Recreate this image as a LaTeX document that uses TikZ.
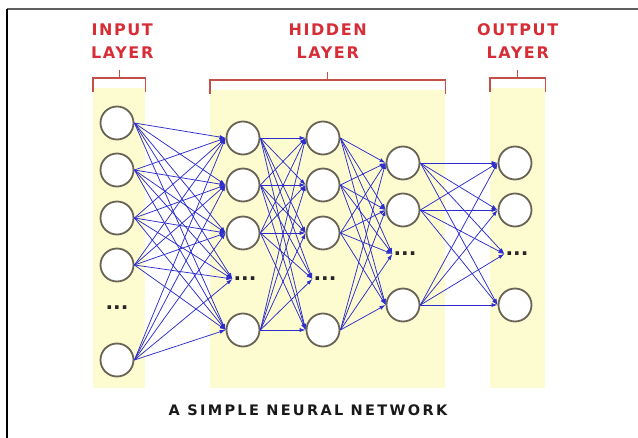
\documentclass[tikz,border=0pt]{standalone}
\usepackage{fontspec}
\setmainfont{DejaVu Sans}
\newfontfamily\layerfont[LetterSpace=10]{DejaVu Sans}
\newfontfamily\captionfont[LetterSpace=16]{DejaVu Sans}
\usepackage{tikz}
\usetikzlibrary{calc}
\usetikzlibrary{positioning}
\usetikzlibrary{arrows.meta}

\definecolor{bandyellow}{RGB}{253,252,208}
\definecolor{labelred}{RGB}{215,45,55}
\definecolor{bracketred}{RGB}{195,80,70}
\definecolor{linkblue}{RGB}{45,45,205}
\definecolor{ringgray}{RGB}{105,100,85}

\tikzset{
  band/.style={rectangle, draw=none, fill=bandyellow, anchor=north west, minimum width=#1},
  neuron/.style={circle, draw=ringgray, line width=1.8pt, fill=white, minimum size=33pt, inner sep=0pt},
  dots/.style={inner sep=1pt, text=black!85, font=\bfseries\fontsize{20}{20}\selectfont},
  link/.style={draw=linkblue, line width=0.75pt},
  bracket/.style={draw=bracketred, line width=1.4pt},
  layerlabel/.style={align=center, text=labelred, font=\layerfont\bfseries\fontsize{16}{23}\selectfont},
  caption/.style={text=black!90, font=\captionfont\bfseries\fontsize{14.5}{17}\selectfont}
}

\begin{document}
\begin{tikzpicture}[x=1pt, y=-1pt]

\useasboundingbox (0,0) rectangle (638,438);

%% frame
\draw[gray!75!black, line width=2pt] (7,9) -- (638,9);
\draw[black, line width=1.5pt] (7,9) -- (7,438);

%% layer backgrounds
\node at (93,88) [band=52pt, minimum height=300pt] (inband) {};
\node at (210,90) [band=235pt, minimum height=298pt] (hidband) {};
\node at (490,88) [band=55pt, minimum height=300pt] (outband) {};

%% brackets and labels
\foreach \b in {inband,hidband,outband} {
	\draw[bracket] ([yshift=-4pt]\b.north west) -- ([yshift=10pt]\b.north west) -- ([yshift=10pt]\b.north east) -- ([yshift=-4pt]\b.north east);
	\draw[bracket] ([yshift=10pt]\b.north) -- ([yshift=18pt]\b.north);
}
\node [layerlabel, above=26pt of inband.north, xshift=3pt] (inlab) {INPUT\\LAYER};
\node [layerlabel, above=28pt of hidband.north] (hidlab) {HIDDEN\\LAYER};
\node [layerlabel, above=26pt of outband.north] (outlab) {OUTPUT\\LAYER};

%% input layer
\foreach \n/\y in {1/123,2/170,3/218,4/265,6/360}
	\node[neuron] (in\n) at (117,\y) {};
\node[dots] (in5) at (117,308) {...};

%% hidden layers
\foreach \n/\y in {1/138,2/185,3/233,5/330} {
	\node[neuron] (ha\n) at (243,\y) {};
	\node[neuron] (hb\n) at (323,\y) {};
}
\node[dots] (ha4) at (245,279) {...};
\node[dots] (hb4) at (325,279) {...};

\foreach \n/\y in {1/163,2/210,4/305}
	\node[neuron] (hc\n) at (403,\y) {};
\node[dots] (hc3) at (405,254) {...};

%% output layer
\foreach \n/\y in {1/163,2/210,4/305}
	\node[neuron] (out\n) at (515,\y) {};
\node[dots] (out3) at (517,254) {...};

%% connections
\begin{scope}[>={Latex[length=6pt,width=4pt]}]
	\foreach \s in {1,2,3,4,6}
		\foreach \t in {1,...,5}
			\draw[link, ->] (in\s.east) -- (ha\t.west);
	\foreach \s in {1,2,3,5}
		\foreach \t in {1,...,5}
			\draw[link, ->] (ha\s.east) -- (hb\t.west);
	\foreach \s in {1,2,3,5}
		\foreach \t in {1,...,4}
			\draw[link, ->] (hb\s.east) -- (hc\t.west);
	\foreach \s in {1,2,4}
		\foreach \t in {1,...,4}
			\draw[link, ->] (hc\s.east) -- (out\t.west);
\end{scope}

\node[caption] (title) at (308,410) {A SIMPLE NEURAL NETWORK};

\end{tikzpicture}
\end{document}
